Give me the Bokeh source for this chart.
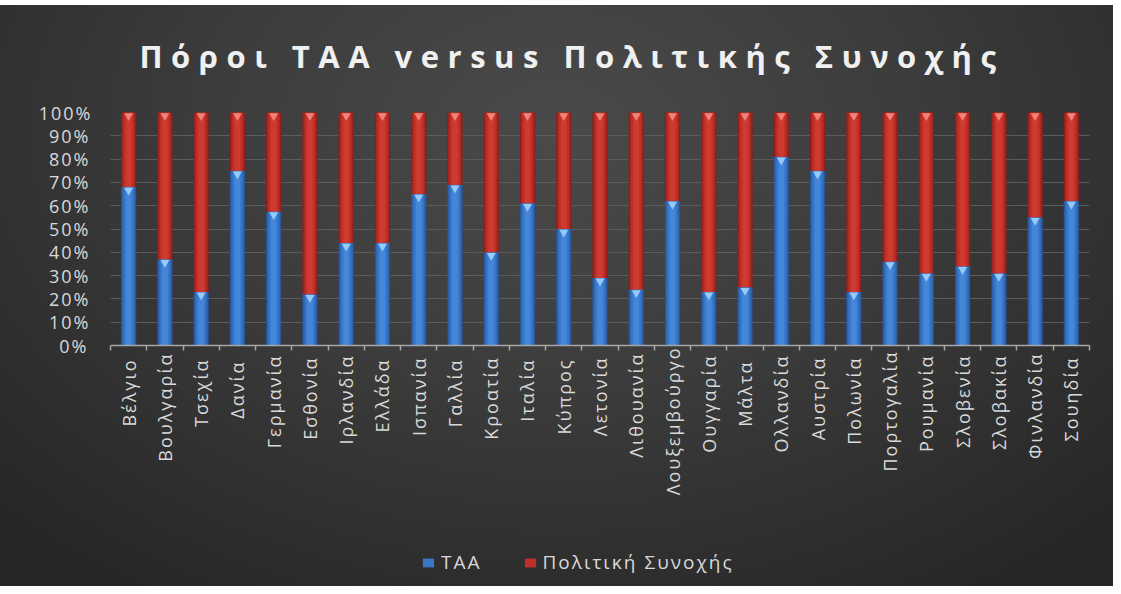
import math
from bokeh.plotting import figure
from bokeh.models import (Range1d, LinearAxis, FixedTicker, NumeralTickFormatter, Legend,
                          LegendItem, Label, ColumnDataSource)
from bokeh.layouts import column
from bokeh.embed import file_html
from bokeh.resources import INLINE

# ---------------- data ----------------
title_text = "Πόροι ΤΑΑ versus Πολιτικής Συνοχής"
countries = ["Βέλγιο", "Βουλγαρία", "Τσεχία", "Δανία", "Γερμανία", "Εσθονία", "Ιρλανδία",
             "Ελλάδα", "Ισπανία", "Γαλλία", "Κροατία", "Ιταλία", "Κύπρος", "Λετονία",
             "Λιθουανία", "Λουξεμβούργο", "Ουγγαρία", "Μάλτα", "Ολλανδία", "Αυστρία",
             "Πολωνία", "Πορτογαλία", "Ρουμανία", "Σλοβενία", "Σλοβακία", "Φινλανδία", "Σουηδία"]
taa = [0.68, 0.37, 0.23, 0.75, 0.575, 0.22, 0.44, 0.44, 0.65, 0.69, 0.40, 0.61, 0.50, 0.29,
       0.24, 0.62, 0.23, 0.25, 0.81, 0.75, 0.23, 0.36, 0.31, 0.34, 0.31, 0.55, 0.62]
cohesion = [1 - t for t in taa]
series = ["ΤΑΑ", "Πολιτική Συνοχής"]
y_ticks = [i / 10 for i in range(11)]

FONT = "Open Sans"
TXT = "#d9d9d9"
BLUE_LAYERS = ["#26559a", "#2f67b3", "#3977c8", "#4487d8"]
RED_LAYERS = ["#8c1e1b", "#a8271f", "#bf3028", "#cf3a30"]
WIDTHS = [0.42, 0.36, 0.28, 0.16]

n = len(countries)
pos = list(range(n))
src = ColumnDataSource(dict(pos=pos, country=countries, taa=taa, coh=cohesion,
                            taa_tri=[t - 0.014 for t in taa],
                            top_tri=[t + c - 0.014 for t, c in zip(taa, cohesion)]))


def strip(height, y_range):
    f = figure(width=1113, height=height, x_range=Range1d(0, 1), y_range=y_range,
               output_backend="svg", toolbar_location=None, x_axis_location=None,
               y_axis_location=None, min_border=0, background_fill_color=None,
               border_fill_color=None, outline_line_color=None)
    f.grid.visible = False
    return f


# ---------------- title strip ----------------
tf = strip(95, Range1d(0, 1))
tf.add_layout(Label(x=29, y=45, x_units="screen", y_units="screen", text=title_text,
                    text_align="left", text_baseline="alphabetic", text_font=FONT,
                    text_font_size="31px", text_font_style="bold", text_color="#f0f0f0"))
tf.styles = {"letter-spacing": "8.5px"}

# ---------------- main chart ----------------
p = figure(x_range=Range1d(-0.5, n - 0.5), y_range=Range1d(0, 1),
           width=1113, height=432, output_backend="svg", toolbar_location=None,
           x_axis_location=None, y_axis_location="left",
           min_border_left=110, min_border_right=24, min_border_top=12, min_border_bottom=187,
           background_fill_color=None, border_fill_color=None, outline_line_color=None)
p.styles = {"letter-spacing": "2px"}

p.yaxis.ticker = FixedTicker(ticks=y_ticks)
p.yaxis.formatter = NumeralTickFormatter(format="0%")
p.yaxis.axis_line_color = None
p.yaxis.major_tick_line_color = None
p.yaxis.minor_tick_line_color = None
p.yaxis.major_label_text_font = FONT
p.yaxis.major_label_text_font_size = "18px"
p.yaxis.major_label_text_color = TXT
p.yaxis.major_label_standoff = 20

p.ygrid.ticker = FixedTicker(ticks=y_ticks)
p.ygrid.grid_line_color = "#5c5c5c"
p.ygrid.grid_line_width = 1
p.xgrid.visible = False

x_axis = LinearAxis(ticker=FixedTicker(ticks=pos, minor_ticks=[i - 0.5 for i in range(n + 1)]),
                    major_label_overrides={i: c for i, c in zip(pos, countries)},
                    axis_line_color="#a6a6a6", axis_line_width=1.5,
                    major_tick_line_color=None, major_tick_out=0, major_tick_in=0,
                    minor_tick_line_color="#a6a6a6", minor_tick_line_width=1.5,
                    minor_tick_out=5, minor_tick_in=0,
                    major_label_orientation=math.pi / 2,
                    major_label_text_font=FONT, major_label_text_font_size="18px",
                    major_label_text_color=TXT, major_label_standoff=20)
p.add_layout(x_axis, "below")

for w, cb, cr in zip(WIDTHS, BLUE_LAYERS, RED_LAYERS):
    p.vbar_stack(["taa", "coh"], x="pos", width=w, color=[cb, cr],
                 line_color=None, source=src)

p.scatter(x="pos", y="taa_tri", marker="inverted_triangle", size=9,
          fill_color="#9fd2ff", fill_alpha=0.9, line_color=None, source=src)
p.scatter(x="pos", y="top_tri", marker="inverted_triangle", size=9,
          fill_color="#f58a80", fill_alpha=0.9, line_color=None, source=src)

# ---------------- legend strip (its bars stay below the visible range) ----------------
lf = strip(54, Range1d(1, 2))
lf.styles = {"letter-spacing": "2px"}
r_blue = lf.vbar(x="pos", top="taa", width=0.5, fill_color=BLUE_LAYERS[2],
                 line_color=None, source=src)
r_red = lf.vbar(x="pos", top="coh", width=0.5, fill_color=RED_LAYERS[2],
                line_color=None, source=src)
legend = Legend(items=[LegendItem(label=series[0], renderers=[r_blue]),
                       LegendItem(label=series[1], renderers=[r_red])],
                orientation="horizontal", location=(311, 11),
                background_fill_alpha=0, border_line_color=None,
                label_text_color=TXT, label_text_font=FONT, label_text_font_size="19px",
                glyph_width=14, glyph_height=11, label_standoff=6, spacing=41,
                padding=0, margin=0)
lf.add_layout(legend, "center")

root = column(tf, p, lf, styles={
    "margin-top": "5px", "margin-bottom": "-8px",
    "background": "radial-gradient(ellipse 70% 95% at 50% 22%, #4a4a4a 0%, #3c3c3c 45%, #262626 100%)"})

open("out.html", "w").write(file_html(root, INLINE))
